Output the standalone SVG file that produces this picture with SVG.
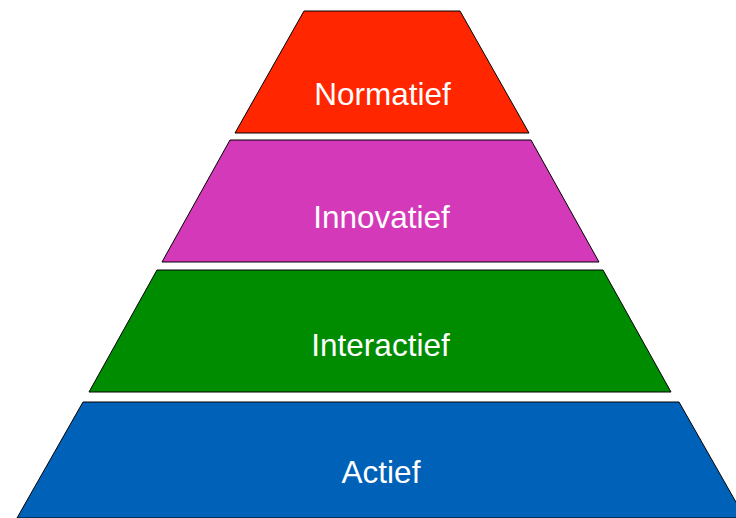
<svg xmlns="http://www.w3.org/2000/svg" width="736" height="518" viewBox="0 0 736 518">
<style>
.tier{stroke:#000;stroke-width:1;stroke-linejoin:miter}
.lbl{font-family:"Liberation Sans",Arial,sans-serif;font-size:31.5px;fill:#fff;text-anchor:middle}
</style>
<rect width="736" height="518" fill="#fff"/>
<g id="normatief">
<polygon class="tier" fill="#ff2600" points="304,11 460,11 529,133 235,133"/>
<text class="lbl" x="382.5" y="105">Normatief</text>
</g>
<g id="innovatief">
<polygon class="tier" fill="#d439b9" points="230,140 531,140 599,262 162,262"/>
<text class="lbl" x="381.5" y="228">Innovatief</text>
</g>
<g id="interactief">
<polygon class="tier" fill="#008c00" points="157,270 603,270 671,392 89,392"/>
<text class="lbl" x="380.5" y="356">Interactief</text>
</g>
<g id="actief">
<polygon class="tier" fill="#0061b8" points="83,402 679,402 745,518 17,518"/>
<text class="lbl" x="381" y="483">Actief</text>
</g>
<g id="connectors"/>
</svg>
